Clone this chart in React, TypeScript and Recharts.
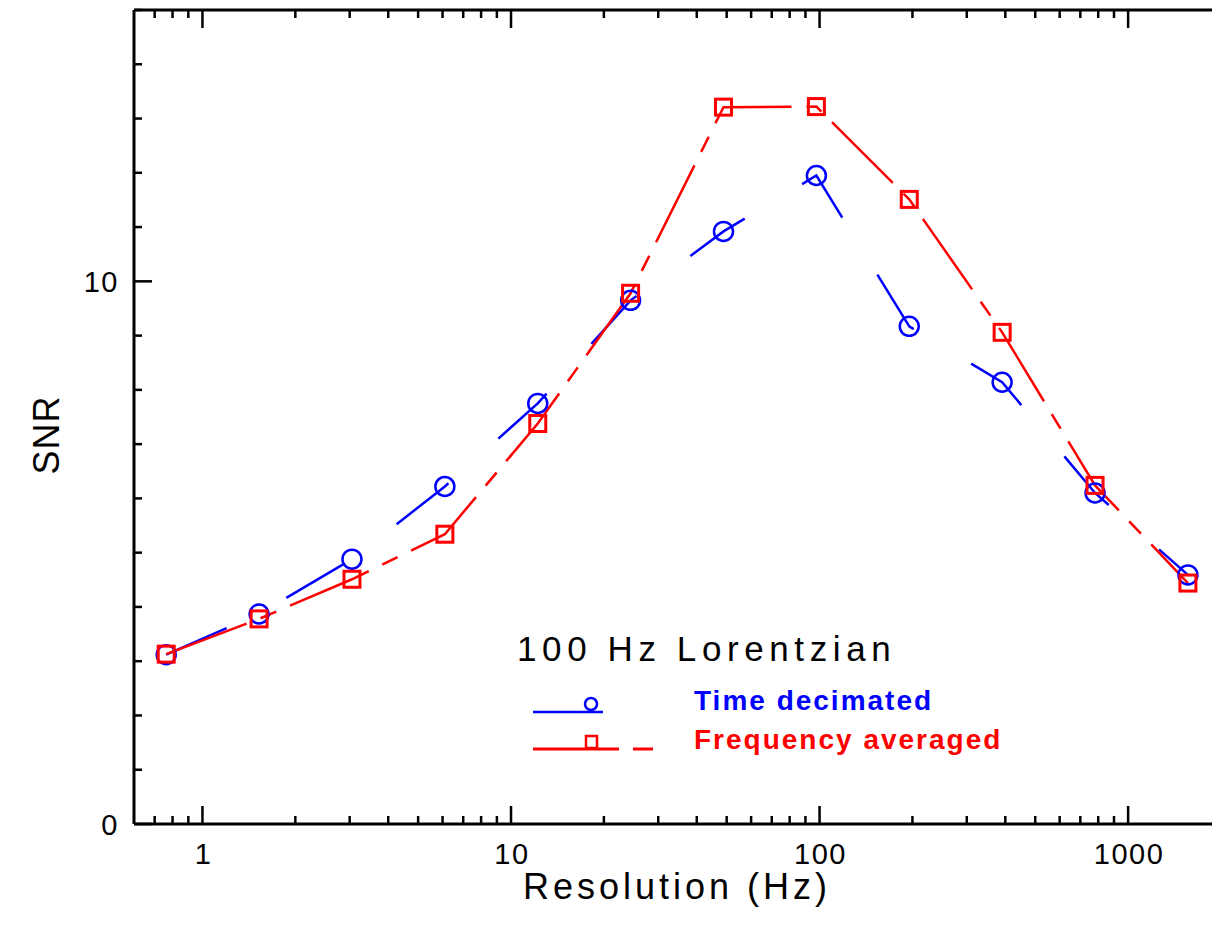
import React from 'react';
import { LineChart, Line, XAxis, YAxis } from 'recharts';

// resolution bins (Hz) and SNR for both methods
const resolutionHz = [0.763, 1.526, 3.052, 6.104, 12.21, 24.41, 48.83, 97.66, 195.3, 390.6, 781.3, 1562.5];
const timeDecimated = [3.12, 3.87, 4.88, 6.22, 7.75, 9.65, 10.92, 11.95, 9.17, 8.14, 6.1, 4.59];
const frequencyAveraged = [3.13, 3.78, 4.51, 5.34, 7.38, 9.78, 13.21, 13.22, 11.51, 9.06, 6.24, 4.44];

const xTicks = [
  0.7, 0.8, 0.9, 1, 2, 3, 4, 5, 6, 7, 8, 9, 10, 20, 30, 40, 50, 60, 70, 80, 90,
  100, 200, 300, 400, 500, 600, 700, 800, 900, 1000,
];
const xTickLabels = [1, 10, 100, 1000];
const yTicks = [0, 1, 2, 3, 4, 5, 6, 7, 8, 9, 10, 11, 12, 13, 14, 15];
const yTickLabels = [0, 10];

const data = resolutionHz.map((hz, i) => ({
  hz,
  time: timeDecimated[i],
  freq: frequencyAveraged[i],
}));

const FONT = '"Liberation Sans", Arial, Helvetica, sans-serif';
const BLUE = '#0000ff';
const RED = '#ff0000';

const BottomTick = (props: any) => {
  const { x, y, payload } = props;
  const major = xTickLabels.includes(payload.value);
  return (
    <g>
      <line x1={x} y1={y} x2={x} y2={y - (major ? 18 : 8)} stroke="#000" strokeWidth={2.5} />
      {major && (
        <text x={x + 1} y={y + 40} textAnchor="middle" fontFamily={FONT} fontSize={29} letterSpacing={1.5} fill="#000">
          {payload.value}
        </text>
      )}
    </g>
  );
};

const TopTick = (props: any) => {
  const { x, y, payload } = props;
  const major = xTickLabels.includes(payload.value);
  return <line x1={x} y1={y} x2={x} y2={y + (major ? 18 : 8)} stroke="#000" strokeWidth={2.5} />;
};

const LeftTick = (props: any) => {
  const { x, y, payload } = props;
  const major = yTickLabels.includes(payload.value);
  return (
    <g>
      <line x1={x} y1={y} x2={x + (major ? 18 : 8)} y2={y} stroke="#000" strokeWidth={2.5} />
      {major && (
        <text x={x - 15} y={y + 11} textAnchor="end" fontFamily={FONT} fontSize={29} letterSpacing={1.5} fill="#000">
          {payload.value}
        </text>
      )}
    </g>
  );
};

const RightTick = (props: any) => {
  const { x, y, payload } = props;
  const major = yTickLabels.includes(payload.value);
  return <line x1={x} y1={y} x2={x - (major ? 18 : 8)} y2={y} stroke="#000" strokeWidth={2.5} />;
};

const CircleDot = (props: any) => {
  const { cx, cy, index } = props;
  if (cx == null || cy == null) return <g key={`c-${index}`} />;
  return <circle key={`c-${index}`} cx={cx} cy={cy} r={9.5} fill="none" stroke={BLUE} strokeWidth={2.5} />;
};

const SquareDot = (props: any) => {
  const { cx, cy, index } = props;
  if (cx == null || cy == null) return <g key={`s-${index}`} />;
  return <rect key={`s-${index}`} x={cx - 8} y={cy - 8} width={16} height={16} fill="none" stroke={RED} strokeWidth={3} />;
};

const axisLine = { stroke: '#000', strokeWidth: 3 };

export default function App() {
  return (
    <div style={{ position: 'fixed', left: 0, top: 0, width: 1212, height: 930, overflow: 'hidden', background: '#fff' }}>
      <LineChart width={1240} height={930} data={data} margin={{ top: 0, right: 0, bottom: 0, left: 0 }}>
        <XAxis
          xAxisId="bottom"
          dataKey="hz"
          type="number"
          scale="log"
          domain={[0.6, 2000]}
          allowDataOverflow
          ticks={xTicks}
          interval={0}
          height={106}
          tickSize={0}
          tickMargin={0}
          tickLine={false}
          axisLine={axisLine}
          tick={BottomTick}
          label={{
            content: () => (
              <text x={677} y={899} textAnchor="middle" fontFamily={FONT} fontSize={36} letterSpacing={4} fill="#000">
                Resolution (Hz)
              </text>
            ),
          }}
        />
        <XAxis
          xAxisId="top"
          orientation="top"
          dataKey="hz"
          type="number"
          scale="log"
          domain={[0.6, 2000]}
          allowDataOverflow
          ticks={xTicks}
          interval={0}
          height={10}
          tickSize={0}
          tickMargin={0}
          tickLine={false}
          axisLine={axisLine}
          tick={TopTick}
        />
        <YAxis
          yAxisId="left"
          type="number"
          domain={[0, 15]}
          ticks={yTicks}
          interval={0}
          width={134}
          tickSize={0}
          tickMargin={0}
          tickLine={false}
          axisLine={axisLine}
          tick={LeftTick}
          label={{
            content: () => (
              <text x={59} y={435} transform="rotate(-90 59 435)" textAnchor="middle" fontFamily={FONT} fontSize={36} letterSpacing={1} fill="#000">
                SNR
              </text>
            ),
          }}
        />
        <YAxis
          yAxisId="right"
          orientation="right"
          type="number"
          domain={[0, 15]}
          ticks={yTicks}
          interval={0}
          width={19}
          tickSize={0}
          tickMargin={0}
          tickLine={false}
          axisLine={axisLine}
          tick={RightTick}
        />
        <Line
          xAxisId="bottom"
          yAxisId="left"
          type="linear"
          dataKey="time"
          stroke={BLUE}
          strokeWidth={2.5}
          strokeDasharray="66 67"
          dot={CircleDot}
          activeDot={false}
          isAnimationActive={false}
        />
        <Line
          xAxisId="bottom"
          yAxisId="left"
          type="linear"
          dataKey="freq"
          stroke={RED}
          strokeWidth={2.5}
          strokeDasharray="86 15 17 15"
          dot={SquareDot}
          activeDot={false}
          isAnimationActive={false}
        />
      </LineChart>
      <svg width={1212} height={930} style={{ position: 'absolute', left: 0, top: 0, pointerEvents: 'none' }}>
        <text x={517} y={661} fontFamily={FONT} fontSize={35} letterSpacing={5.6} fill="#000">
          100 Hz Lorentzian
        </text>
        <line x1={533} y1={712} x2={603} y2={712} stroke={BLUE} strokeWidth={2.5} />
        <circle cx={591} cy={704} r={6} fill="#fff" stroke={BLUE} strokeWidth={2.5} />
        <text x={694} y={710} fontFamily={FONT} fontWeight="bold" fontSize={28} letterSpacing={2} fill={BLUE}>
          Time decimated
        </text>
        <line x1={533} y1={749} x2={619} y2={749} stroke={RED} strokeWidth={3} />
        <rect x={586} y={736} width={11} height={12} fill="#fff" stroke={RED} strokeWidth={2.5} />
        <line x1={633} y1={749} x2={653} y2={749} stroke={RED} strokeWidth={3} />
        <text x={694} y={749} fontFamily={FONT} fontWeight="bold" fontSize={28} letterSpacing={2} fill={RED}>
          Frequency averaged
        </text>
      </svg>
    </div>
  );
}
